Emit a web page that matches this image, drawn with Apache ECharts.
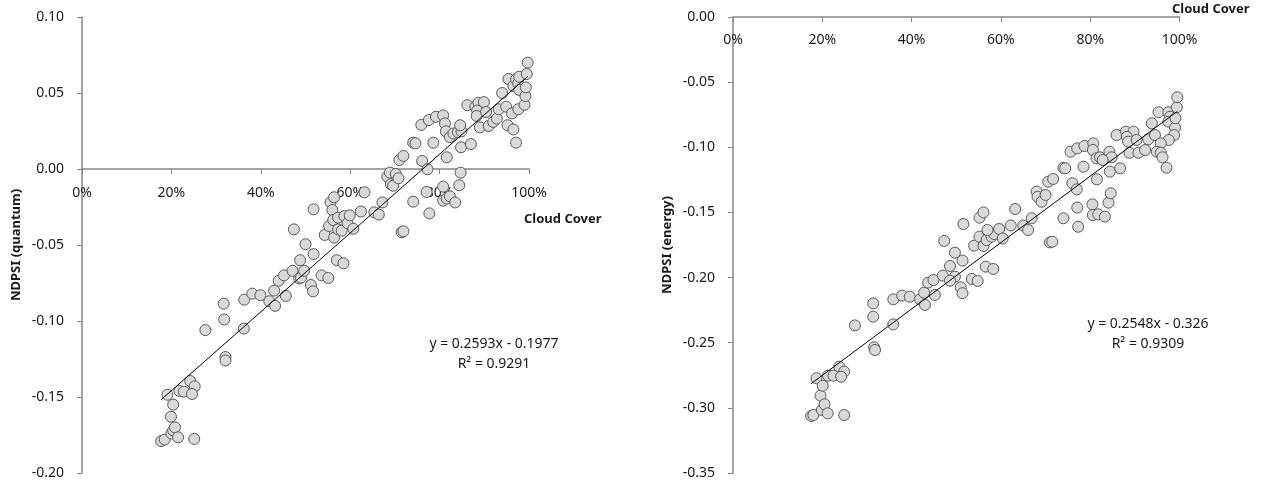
<!DOCTYPE html>
<html>
<head>
<meta charset="utf-8">
<script src="https://cdn.jsdelivr.net/npm/echarts@6/dist/echarts.min.js"></script>
<style>
html,body{margin:0;padding:0;background:#fff;}
#chart{width:1266px;height:484px;}
</style>
</head>
<body>
<div id="chart"></div>
<script>
// ---- Data ----
const xTickLabels = ['0%', '20%', '40%', '60%', '80%', '100%'];

// [cloud cover, NDPSI (quantum)]
const quantumPoints = [
  [0.177,-0.179],[0.185,-0.178],[0.191,-0.1485],[0.199,-0.163],[0.200,-0.174],[0.204,-0.172],[0.208,-0.170],
  [0.204,-0.155],[0.215,-0.1765],[0.218,-0.146],[0.228,-0.1465],[0.242,-0.1395],[0.252,-0.143],[0.246,-0.148],
  [0.251,-0.1776],[0.276,-0.106],[0.317,-0.0886],[0.318,-0.099],[0.321,-0.1237],[0.321,-0.126],[0.362,-0.105],
  [0.363,-0.086],[0.381,-0.082],[0.399,-0.083],[0.419,-0.087],[0.432,-0.090],[0.430,-0.080],[0.440,-0.0735],
  [0.452,-0.070],[0.456,-0.0835],[0.471,-0.067],[0.486,-0.072],[0.474,-0.0397],[0.488,-0.060],
  [0.490,-0.0715],[0.497,-0.067],[0.500,-0.0495],[0.512,-0.0763],[0.517,-0.0805],[0.518,-0.056],[0.518,-0.0265],
  [0.536,-0.070],[0.551,-0.0717],[0.543,-0.0434],[0.553,-0.0375],[0.556,-0.0219],[0.560,-0.027],[0.564,-0.0186],
  [0.562,-0.0336],[0.564,-0.0452],[0.570,-0.060],[0.573,-0.032],[0.573,-0.0397],[0.581,-0.0406],[0.585,-0.062],
  [0.587,-0.031],[0.594,-0.0357],[0.599,-0.0305],[0.607,-0.0393],[0.624,-0.028],[0.632,-0.0153],[0.654,-0.0285],
  [0.664,-0.030],[0.672,-0.022],[0.683,-0.005],[0.689,-0.0024],[0.691,-0.010],[0.696,-0.011],[0.702,-0.0033],
  [0.708,-0.0061],[0.710,0.0059],[0.719,0.0086],[0.715,-0.0416],[0.719,-0.041],[0.741,-0.0215],
  [0.741,0.0173],[0.746,0.0169],[0.759,0.029],[0.761,0.0053],[0.773,-0.0002],[0.771,-0.0151],[0.777,-0.0292],
  [0.776,0.0322],[0.786,0.0173],[0.792,0.0344],[0.808,0.0353],[0.812,0.030],[0.814,0.0248],[0.816,0.0077],
  [0.808,-0.0116],[0.808,-0.0208],[0.816,-0.0195],[0.823,-0.018],[0.835,-0.022],[0.823,0.021],[0.831,0.0234],
  [0.841,0.0243],[0.849,0.0248],[0.846,0.0288],[0.844,-0.0107],[0.847,-0.0024],[0.848,0.0143],[0.870,0.0164],
  [0.862,0.042],[0.880,0.041],[0.887,0.0436],[0.899,0.044],[0.884,0.0384],[0.883,0.0349],[0.890,0.0274],
  [0.904,0.0375],[0.910,0.0283],[0.920,0.031],[0.928,0.0331],[0.932,0.0393],[0.940,0.050],[0.949,0.041],
  [0.952,0.0288],[0.954,0.0592],[0.962,0.0366],[0.965,0.026],[0.965,0.0546],[0.971,0.059],[0.971,0.0173],
  [0.976,0.0564],[0.976,0.0393],[0.978,0.0607],[0.978,0.052],[0.990,0.0423],[0.992,0.048],[0.993,0.0537],
  [0.995,0.0625],[0.997,0.070]
];

// [cloud cover, NDPSI (energy)]
const energyPoints = [
  [0.175,-0.3062],[0.180,-0.3055],[0.187,-0.2773],[0.196,-0.2906],[0.199,-0.3016],[0.201,-0.283],[0.205,-0.2973],
  [0.212,-0.3042],[0.249,-0.3055],[0.213,-0.2753],[0.225,-0.2753],[0.238,-0.2684],[0.249,-0.2722],[0.242,-0.2761],
  [0.273,-0.2367],[0.314,-0.2198],[0.314,-0.230],[0.316,-0.2535],[0.318,-0.2556],[0.359,-0.2359],[0.359,-0.2167],
  [0.379,-0.2139],[0.396,-0.2147],[0.419,-0.2167],[0.430,-0.221],[0.428,-0.2116],[0.452,-0.2134],[0.437,-0.2039],
  [0.449,-0.2019],[0.470,-0.1985],[0.486,-0.1911],[0.497,-0.1993],[0.486,-0.2024],[0.473,-0.1719],[0.497,-0.1809],
  [0.514,-0.187],[0.510,-0.2075],[0.514,-0.212],[0.535,-0.2011],[0.548,-0.2026],[0.516,-0.1589],[0.540,-0.1755],
  [0.552,-0.1686],[0.561,-0.1758],[0.552,-0.154],[0.561,-0.150],[0.572,-0.1648],[0.568,-0.1712],[0.579,-0.1686],
  [0.585,-0.1666],[0.596,-0.1627],[0.604,-0.170],[0.566,-0.1916],[0.583,-0.1934],[0.622,-0.160],[0.632,-0.1474],
  [0.650,-0.160],[0.661,-0.1635],[0.669,-0.1545],[0.680,-0.134],[0.682,-0.138],[0.691,-0.1418],[0.700,-0.1366],
  [0.706,-0.1264],[0.717,-0.1243],[0.710,-0.173],[0.715,-0.1725],[0.740,-0.1545],[0.740,-0.1157],[0.744,-0.1161],
  [0.760,-0.1276],[0.770,-0.1323],[0.771,-0.1463],[0.773,-0.161],[0.785,-0.1149],[0.756,-0.1034],[0.771,-0.1008],
  [0.787,-0.099],[0.807,-0.097],[0.806,-0.102],[0.814,-0.1085],[0.822,-0.1077],[0.815,-0.1246],[0.805,-0.1438],
  [0.806,-0.152],[0.818,-0.1515],[0.833,-0.1532],[0.841,-0.1425],[0.846,-0.1353],[0.844,-0.1187],[0.867,-0.1161],
  [0.843,-0.1034],[0.848,-0.1077],[0.828,-0.1098],[0.859,-0.0906],[0.880,-0.088],[0.897,-0.088],[0.882,-0.092],
  [0.885,-0.0957],[0.904,-0.0944],[0.888,-0.1042],[0.908,-0.1042],[0.923,-0.1021],[0.930,-0.0939],[0.945,-0.0906],
  [0.938,-0.0816],[0.953,-0.0731],[0.975,-0.0731],[0.979,-0.0765],[0.994,-0.0693],[0.995,-0.0616],[0.975,-0.0803],
  [0.990,-0.085],[0.988,-0.0906],[0.976,-0.0944],[0.958,-0.097],[0.949,-0.1034],[0.958,-0.1042],[0.962,-0.1077],
  [0.971,-0.1157],[0.991,-0.0777],[0.570,-0.1635]
];

// Linear fits printed on the chart
const fitQuantum = { slope: 0.2593, intercept: -0.1977, r2: '0.9291' };
const fitEnergy  = { slope: 0.2548, intercept: -0.326,  r2: '0.9309' };

const yTicksQuantum = { min: -0.20, max: 0.10, step: 0.05 };
const yTicksEnergy  = { min: -0.35, max: 0.00, step: 0.05 };

// ---- Helpers ----
function trendLine(points, fit) {
  const xs = points.map(p => p[0]);
  const x0 = Math.min(...xs), x1 = Math.max(...xs);
  return [[x0, fit.slope * x0 + fit.intercept], [x1, fit.slope * x1 + fit.intercept]];
}
function eqText(fit) {
  const sign = fit.intercept < 0 ? ' - ' : ' + ';
  return 'y = ' + fit.slope + 'x' + sign + Math.abs(fit.intercept);
}

const FONT = '"Noto Sans", "Liberation Sans", sans-serif';
const axisColor = '#868686';
const textColor = '#1a1a1a';

function visibleXAxis(gi, position, inside, margin) {
  return {
    gridIndex: gi, type: 'value', min: 0, max: 1, interval: 0.2, position: position,
    axisLine: { show: true, onZero: false, lineStyle: { color: axisColor, width: 1.5 } },
    axisTick: { show: true, inside: inside, length: 5, lineStyle: { color: axisColor, width: 1 } },
    axisLabel: {
      inside: inside, margin: margin, color: textColor, fontFamily: FONT, fontSize: 14,
      formatter: v => xTickLabels[Math.round(v / 0.2)]
    },
    splitLine: { show: false }
  };
}
function makeYAxis(gi, t, name) {
  return {
    gridIndex: gi, type: 'value', min: t.min, max: t.max, interval: t.step,
    name: name, nameLocation: 'middle', nameGap: 59, nameRotate: 90,
    nameTextStyle: { fontFamily: FONT, fontSize: 13, fontWeight: 'bold', color: textColor },
    axisLine: { show: true, onZero: false, lineStyle: { color: axisColor, width: 1.5 } },
    axisTick: { show: true, length: 5, lineStyle: { color: axisColor, width: 1 } },
    axisLabel: {
      margin: 18, color: textColor, fontFamily: FONT, fontSize: 14,
      formatter: v => v.toFixed(2)
    },
    splitLine: { show: false }
  };
}
const pointStyle = { color: '#d9d9d9', borderColor: '#5a5a5a', borderWidth: 1, opacity: 1 };

const chart = echarts.init(document.getElementById('chart'), null, { renderer: 'canvas' });
chart.setOption({
  animation: false,
  backgroundColor: '#ffffff',
  grid: [
    { left: 82, top: 17, width: 447, height: 456 },      // quantum plot area
    { left: 733, top: 17, width: 446.5, height: 456 },   // energy plot area
    { left: 82, top: 17, width: 447, height: 152 }       // quantum: upper part, its bottom edge is y = 0
  ],
  xAxis: [
    { gridIndex: 0, type: 'value', min: 0, max: 1, show: false, splitLine: { show: false } },
    visibleXAxis(1, 'top', true, 16),
    visibleXAxis(2, 'bottom', false, 17)
  ],
  yAxis: [
    makeYAxis(0, yTicksQuantum, 'NDPSI (quantum)'),
    makeYAxis(1, yTicksEnergy, 'NDPSI (energy)'),
    { gridIndex: 2, type: 'value', min: 0, max: 1, show: false, splitLine: { show: false } }
  ],
  series: [
    { type: 'scatter', xAxisIndex: 0, yAxisIndex: 0, data: quantumPoints, symbol: 'circle', symbolSize: 11, itemStyle: pointStyle, z: 2 },
    { type: 'line', xAxisIndex: 0, yAxisIndex: 0, data: trendLine(quantumPoints, fitQuantum), showSymbol: false, symbol: 'none',
      lineStyle: { color: '#000', width: 1 }, z: 3, silent: true },
    { type: 'scatter', xAxisIndex: 1, yAxisIndex: 1, data: energyPoints, symbol: 'circle', symbolSize: 11, itemStyle: pointStyle, z: 2 },
    { type: 'line', xAxisIndex: 1, yAxisIndex: 1, data: trendLine(energyPoints, fitEnergy), showSymbol: false, symbol: 'none',
      lineStyle: { color: '#000', width: 1 }, z: 3, silent: true }
  ],
  graphic: [
    { type: 'text', left: 524, top: 213, style: { text: 'Cloud Cover', font: 'bold 13px ' + FONT, fill: textColor } },
    { type: 'text', left: 1172, top: 3, style: { text: 'Cloud Cover', font: 'bold 13px ' + FONT, fill: textColor } },
    { type: 'text', x: 494, y: 344, style: { text: eqText(fitQuantum), font: '14px ' + FONT, fill: textColor, align: 'center', verticalAlign: 'middle' } },
    { type: 'text', x: 494, y: 364, style: { text: 'R² = ' + fitQuantum.r2, font: '14px ' + FONT, fill: textColor, align: 'center', verticalAlign: 'middle' } },
    { type: 'text', x: 1148, y: 324, style: { text: eqText(fitEnergy), font: '14px ' + FONT, fill: textColor, align: 'center', verticalAlign: 'middle' } },
    { type: 'text', x: 1148, y: 344, style: { text: 'R² = ' + fitEnergy.r2, font: '14px ' + FONT, fill: textColor, align: 'center', verticalAlign: 'middle' } }
  ]
});
</script>
</body>
</html>
